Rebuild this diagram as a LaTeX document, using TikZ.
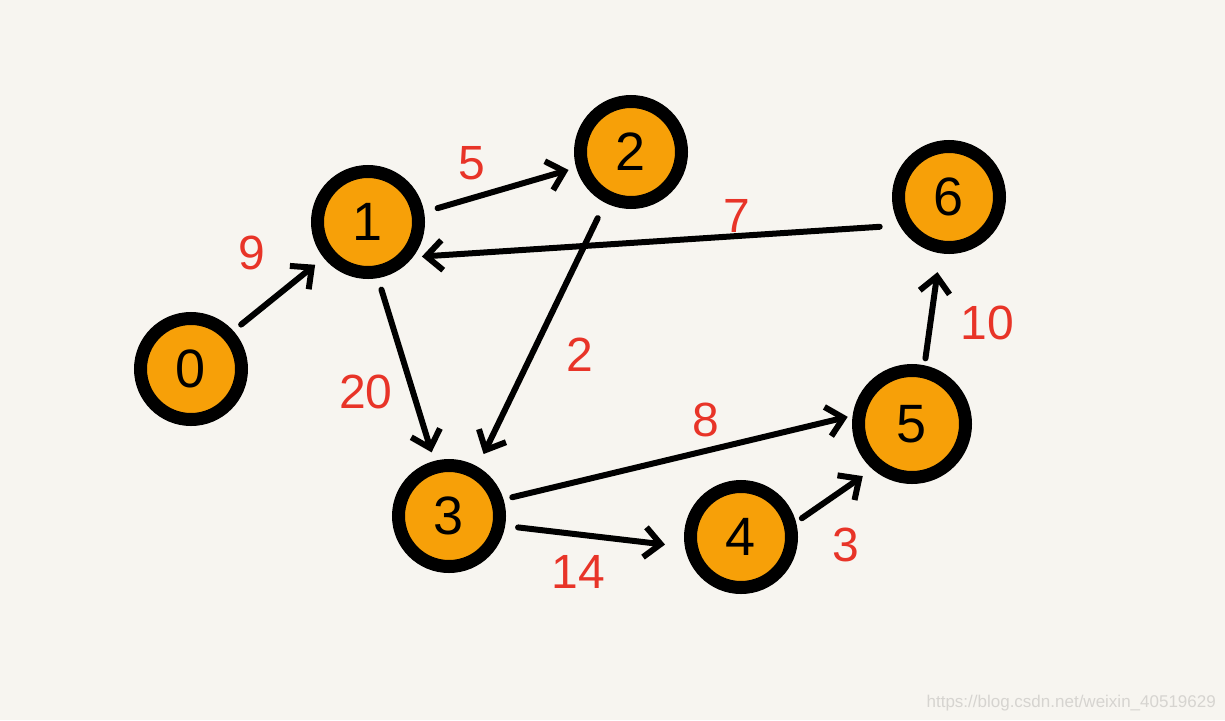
\documentclass[tikz,border=0pt]{standalone}
\usepackage{fontspec}
\setmainfont{Liberation Sans}
\usetikzlibrary{arrows.meta}
\definecolor{paper}{RGB}{247,245,240}
\definecolor{nodeorange}{RGB}{247,160,8}
\definecolor{labelred}{RGB}{232,52,40}
\definecolor{wmgray}{RGB}{214,212,208}
\tikzset{
  vertex/.style={circle, draw=black, line width=13pt, fill=nodeorange, minimum size=#1, inner sep=0pt,
    font=\fontsize{54}{54}\selectfont},
  vertex/.default=101pt,
  edgearrow/.style={line width=6pt, line cap=round, line join=round, -{Straight Barb[length=16pt,width=30pt]}},
  weight/.style={text=labelred, font=\fontsize{48}{48}\selectfont, inner sep=0pt},
}
\begin{document}
\begin{tikzpicture}[x=1pt,y=-1pt]
\fill[paper] (0,0) rectangle (1225,720);
\useasboundingbox (0,0) rectangle (1225,720);
\node[vertex] (n0) at (191,369) {0};
\node[vertex] (n1) at (368,222) {1};
\node[vertex] (n2) at (631,152) {2};
\node[vertex] (n6) at (949,197) {6};
\node[vertex=107pt] (n5) at (912,424) {5};
\node[vertex] (n3) at (449,516) {3};
\node[vertex] (n4) at (741,537) {4};
\draw[edgearrow, shorten <=10pt, shorten >=11pt] (n0.42) -- (n1.219);
\draw[edgearrow, shorten <=14pt, shorten >=8pt] (n1.10) -- (n2.196);
\draw[edgearrow, shorten <=17pt, shorten >=14pt] (n2.243) -- (n3.60);
\draw[edgearrow, shorten <=20pt, shorten >=9pt] (n6.210) -- (n1.-38);
\draw[edgearrow, shorten <=12pt, shorten >=9pt] (n1.-80) -- (n3.105);
\draw[edgearrow, shorten <=9pt, shorten >=5pt] (n3.17) -- (n5.172);
\draw[edgearrow, shorten <=13pt, shorten >=20pt] (n3.-10) -- (n4.190);
\draw[edgearrow, shorten <=7pt, shorten >=12pt] (n4.15) -- (n5.229);
\draw[edgearrow, shorten <=7pt, shorten >=19pt] (n5.78) -- (n6.261);
\node[weight] (w01) at (252,253) {9};
\node[weight] (w12) at (472,163) {5};
\node[weight] (w23) at (580,355) {2};
\node[weight] (w61) at (737,216) {7};
\node[weight] (w13) at (366,392) {20};
\node[weight] (w35) at (706,420) {8};
\node[weight] (w34) at (578,572) {14};
\node[weight] (w45) at (846,545) {3};
\node[weight] (w56) at (987,323) {10};
\node[text=wmgray, font=\fontsize{17}{17}\selectfont, anchor=east, inner sep=0pt] (wm) at (1216,703) {https://blog.csdn.net/weixin\_40519629};
\end{tikzpicture}
\end{document}
